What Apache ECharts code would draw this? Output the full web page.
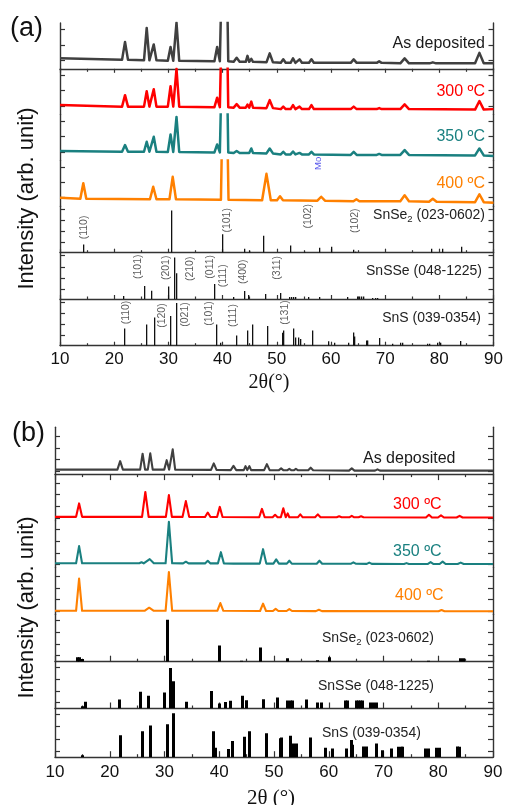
<!DOCTYPE html>
<html><head><meta charset="utf-8">
<script src="https://cdn.jsdelivr.net/npm/echarts@6/dist/echarts.min.js"></script>
<style>html,body{margin:0;padding:0;background:#fff}#c{width:508px;height:805px}</style>
</head><body><div id="c"></div>
<script>
// ================= DATA =================
const xTicks = [10, 20, 30, 40, 50, 60, 70, 80, 90];
// XRD patterns: ends = [level at 10°, level at 90°]; peaks = [2θ, foot level, apex level, half-width]
// ---- panel (a)
const aAsDepEnds = [10.5, 5.5];
const aAsDepPeaks = [[22.0,9,27,0.55],[26.0,8.5,41,0.5],[27.3,8.5,24.5,0.5],[30.4,8,22,0.5],[31.5,8,46.5,0.5],[39.0,7.5,22,0.5],[40.4,7.5,230,0.65],[42.6,7,11,0.55],[44.6,7,13,0.32],[45.3,7,10,0.32],[48.7,6.5,15.5,0.6],[51.2,6,9.5,0.45],[53.0,6,10.5,0.45],[54.2,6,9.5,0.45],[56.4,6,9.5,0.45],[64.2,6,9.5,0.55],[68.9,6,7.5,0.45],[73.6,5.5,10.5,0.8],[78.8,5.5,6.5,0.6],[87.4,5.5,16,0.8]];
const a300Ends = [9.6, 5.5];
const a300Peaks = [[22.0,8,19.5,0.55],[26.0,8,23.5,0.5],[27.3,8,25.5,0.5],[30.4,8,28.5,0.5],[31.5,8,46,0.5],[39.0,7.5,17,0.5],[40.4,7.5,230,0.65],[42.6,7,10.5,0.55],[44.6,7,10,0.32],[45.3,7,13,0.32],[48.7,6.5,14.5,0.6],[51.2,5.5,8,0.45],[53.0,5.5,9.6,0.45],[54.2,5.5,8,0.45],[56.4,5.5,9.6,0.45],[64.2,5.5,8,0.55],[68.9,5.5,6.5,0.45],[73.6,5.5,10.3,0.8],[87.4,5,13.6,0.8]];
const a350Ends = [9.4, 4.5];
const a350Peaks = [[22.0,8.7,15.4,0.55],[26.0,8.7,18.7,0.5],[27.3,8.7,23.7,0.5],[30.4,8.5,26,0.5],[31.5,8.5,43.7,0.5],[39.0,8,16,0.5],[40.4,8,230,0.65],[42.6,7.5,9.5,0.55],[44.6,7.5,9.5,0.32],[45.3,7.5,12,0.32],[48.7,7,12,0.6],[51.2,6,8.7,0.45],[53.0,6,8.9,0.45],[54.2,6,7.5,0.45],[56.4,6,8.7,0.45],[64.2,5.5,8.5,0.55],[68.9,5.5,6.5,0.45],[73.6,5.5,10.4,0.8],[87.4,5,12,0.8]];
const a400Ends = [8.5, 3.5];
const a400Peaks = [[14.3,7.5,23,0.55],[27.2,7,19.5,0.6],[30.8,7,29.5,0.6],[40.4,6.5,230,0.7],[48.1,6,32.5,0.8],[50.6,6,10,0.55],[58.2,5.5,9.5,0.7],[64.7,5,7,0.55],[73.6,5,11,0.8],[78.8,4.5,7.5,0.7],[87.4,4,12,0.8]];
// ---- panel (b)
const bAsDepEnds = [4.5, 3.5];
const bAsDepPeaks = [[21.9,4.5,13,0.5],[26.0,4.5,20.5,0.45],[27.4,4.5,20.8,0.45],[30.4,4.5,14,0.45],[31.5,4.5,24.8,0.45],[39.0,4.2,10.8,0.5],[42.6,4,8.2,0.5],[44.8,4,8,0.32],[45.5,4,8,0.32],[48.7,4,10,0.5],[51.3,3.8,5.8,0.45],[52.8,3.8,5.3,0.4],[54.0,3.8,5.3,0.4],[56.7,3.8,6.4,0.45],[64.2,3.5,5.8,0.5],[68.9,3.5,4.8,0.45]];
const b300Ends = [4, 3.3];
const b300Peaks = [[14.4,4,17.5,0.55],[26.5,4,29,0.6],[30.8,4,25.8,0.55],[33.9,4,19.8,0.6],[37.9,3.8,8.3,0.5],[40.1,3.8,14,0.5],[47.8,3.6,12,0.5],[50.2,3.6,6,0.45],[51.7,3.6,12.5,0.45],[52.5,3.6,7.5,0.3],[54.8,3.5,6.5,0.45],[58.0,3.5,6.5,0.5],[61.9,3.5,4.5,0.45],[64.2,3.5,5,0.45],[65.9,3.5,4.5,0.45],[78.3,3.3,6,0.55],[80.5,3.3,5.5,0.55],[83.9,3.3,5,0.55]];
const b350Ends = [4.3, 3.6];
const b350Peaks = [[14.4,4.3,21.6,0.55],[25.8,4.3,5.3,0.4],[27.3,4.3,8.5,0.75],[30.8,4.3,46,0.6],[33.9,4.2,5.9,0.5],[37.9,4.2,6.8,0.5],[40.3,4.2,15.5,0.55],[42.9,4,5.5,0.3],[43.5,4,5.5,0.3],[48.0,4,18.5,0.6],[50.4,4,8.3,0.5],[52.8,4,6.9,0.45],[58.3,3.8,6.9,0.5],[64.5,3.8,5.3,0.5],[67.4,3.7,5,0.45],[74.2,3.6,4.5,0.45],[78.6,3.6,5.5,0.55],[80.8,3.6,6,0.55],[84.1,3.6,5,0.55]];
const b400Ends = [3.5, 3];
const b400Peaks = [[14.4,3.5,36,0.55],[27.2,3.5,6.6,0.85],[30.8,3.5,42.6,0.6],[40.2,3.5,11.3,0.55],[48.0,3.3,10.7,0.55],[50.3,3.3,5.5,0.5],[52.8,3.3,5.3,0.5],[58.2,3.2,4.5,0.55],[80.6,3,4.3,0.55]];

// Reference sticks [2θ, intensity]
const aSnSe2 = [[14.4,8],[30.6,41.7],[40.1,18.3],[44.1,4],[45.0,2],[47.6,16.7],[52.6,7],[55.2,1],[58.0,5],[60.1,6],[64.1,3],[64.6,1],[78.5,4],[80.7,4],[84.1,6]];
const aSnSSe = [[21.7,3],[25.7,13],[27.0,8.3],[30.1,12.3],[31.1,41.3],[31.6,25.7],[38.6,15],[42.1,2],[44.1,8],[44.8,4],[48.0,5],[50.7,6],[52.4,2],[52.8,2],[53.1,2],[53.5,2],[55.9,2],[57.9,2],[63.1,2],[65.0,2.5],[65.3,2.5],[65.6,2.5],[66.0,2.5],[67.7,1],[68.2,1],[68.7,1]];
const aSnS = [[22.0,17],[26.0,21],[27.4,27.7],[30.4,29.3],[31.5,42],[39.0,21],[39.6,3],[42.6,10],[44.7,15],[45.5,21],[48.4,19.3],[51.0,12.7],[51.3,15],[53.1,17],[53.5,8],[54.1,8],[54.4,6.7],[56.7,15],[59.5,4.3],[60.7,3],[63.3,3],[64.1,13],[64.4,9],[66.5,5],[66.8,5],[69.0,7.7],[71.4,2],[72.8,3],[73.3,3],[77.9,2],[78.3,2],[79.7,3],[80.2,3],[83.9,4.7]];
const bSnSe2 = [[14.2,4.3],[14.5,4.3],[15.0,2.7],[30.6,41.7],[40.1,16],[44.0,1],[47.5,14],[52.5,3.5],[58.0,1.5],[60.1,4.5],[78.3,1],[84.1,3.5],[84.6,3.5]];
const bSnSSe = [[15.0,2.3],[15.6,6.7],[21.8,9],[25.7,16.7],[27.0,12.7],[30.0,16],[31.1,40.7],[31.6,27.3],[34.0,6.7],[38.6,17.7],[40.1,5],[41.2,6.5],[42.0,7.7],[44.2,12.7],[44.9,8.3],[48.0,9.3],[50.7,11],[52.5,8],[53.0,8],[53.4,8],[55.9,9],[58.0,6],[58.6,6],[63.0,8],[63.4,8],[65.0,8],[65.4,8],[65.8,8],[66.2,8],[67.7,6],[68.2,6],[68.8,6]];
const bSnS = [[15.0,2],[22.0,21.3],[26.0,25],[27.4,30.7],[30.5,31.7],[31.6,42.3],[39.0,25],[39.3,9],[41.7,8],[42.5,15.7],[44.6,19.7],[45.5,25],[48.6,23],[51.1,18.3],[51.4,19],[53.1,20.7],[53.5,13.3],[54.2,13.3],[56.6,19],[59.4,9],[60.7,8.3],[63.3,8.3],[64.1,16.7],[64.4,12],[66.4,10.3],[66.9,10.3],[68.7,13.3],[69.8,6.7],[71.4,8.3],[72.8,10],[73.2,10],[73.5,10],[77.7,8.3],[78.2,8.3],[79.7,9],[80.2,9],[83.5,10.3],[83.8,10]];

// Miller index labels [2θ, height, text]
const aSnSe2Hkl = [[14.5,25,'(110)'],[40.9,32,'(101)'],[55.8,36,'(102)'],[64.4,31.7,'(102)']];
const aSnSSeHkl = [[24.4,32,'(101)'],[29.5,31,'(201)'],[34.0,30,'(210)'],[37.7,32,'(011)'],[40.1,23,'(111)'],[43.8,27,'(400)'],[50.1,31,'(311)']];
const aSnSHkl = [[22.2,32.7,'(110)'],[28.8,29.7,'(120)'],[33.1,30.7,'(021)'],[37.5,31.7,'(101)'],[42.0,29.7,'(111)'],[51.5,32.7,'(131)']];
const aMo = [[57.7,43,'Mo']];

// ================= BUILD =================
const FONT = 'Liberation Sans, Arial, Helvetica, sans-serif';
const SERIF = 'Liberation Serif, Times New Roman, DejaVu Serif, serif';
const FRAME = '#333';
const C_DEP = '#404040', C_300 = '#ff0000', C_350 = '#1a8080', C_400 = '#ff8000';

function profile(ends, peaks) {
  const pts = [[10, ends[0]]];
  peaks.forEach(p => { pts.push([p[0] - p[3], p[1]], [p[0], p[2]], [p[0] + p[3], p[1]]); });
  pts.push([90, ends[1]]);
  return pts;
}

const grids = [], xAxes = [], yAxes = [], series = [];
const A_B = [23, 68.8, 114.6, 160.4, 206.2, 252.7, 299, 345.7];
const B_B = [427.3, 474.1, 520.8, 567.6, 614.3, 661.7, 708.5, 757.2];

function addPanel(bounds, left, width, isB) {
  const out = [];
  for (let k = 0; k < 7; k++) {
    const gi = grids.length;
    grids.push({ left: left, width: width, top: bounds[k], height: bounds[k + 1] - bounds[k], outerBoundsMode: 'none', containLabel: false });
    const isRef = k >= 4, isLast = k === 6;
    const xi = xAxes.length;
    const tickCol = { color: FRAME, width: 1.2 };
    xAxes.push({
      type: 'value', gridIndex: gi, min: 10, max: 90, interval: 10, position: 'bottom',
      axisLine: { show: isRef, lineStyle: { color: FRAME, width: 1.4 } },
      axisTick: { show: isRef, inside: true, length: isB ? 6 : 4, lineStyle: tickCol },
      minorTick: { show: isRef, splitNumber: 2, length: isB ? 3 : 2.5, lineStyle: tickCol },
      splitLine: { show: false }, minorSplitLine: { show: false },
      axisLabel: { show: isLast, margin: isB ? 7 : 5, fontSize: 17, color: '#111', fontFamily: FONT,
        formatter: v => (xTicks.indexOf(v) >= 0 ? String(v) : '') }
    });
    if (k === 0) {
      xAxes.push({
        type: 'value', gridIndex: gi, min: 10, max: 90, interval: 10, position: 'top',
        axisLine: { show: true, lineStyle: { color: FRAME, width: 1.4 } },
        axisTick: { show: true, inside: true, length: isB ? 6 : 4, lineStyle: tickCol },
        minorTick: { show: true, splitNumber: 2, length: 3, lineStyle: tickCol },
        splitLine: { show: false }, minorSplitLine: { show: false }, axisLabel: { show: false }
      });
    }
    const ymax = isB ? 47 : 46;
    const tv = isB ? (isRef ? [6, 17.7, 29.4, 41.1] : [3, 14.7, 26.4, 38.1])
                   : (isRef ? [10, 21, 32, 43] : [8.5, 24, 39.3]);
    const yi = yAxes.length;
    ['left', 'right'].forEach(pos => {
      yAxes.push({
        type: 'value', gridIndex: gi, min: 0, max: ymax, position: pos,
        axisLine: { show: true, onZero: false, lineStyle: { color: FRAME, width: 1.4 } },
        axisTick: { show: true, inside: true, length: 5, customValues: tv, lineStyle: tickCol },
        axisLabel: { show: false }, splitLine: { show: false }
      });
    });
    out.push({ xi: xi, yi: yi });
  }
  return out;
}

const PA = addPanel(A_B, 60, 433.5, false);
const PB = addPanel(B_B, 55, 438, true);

function lineS(ax, data, color, w) {
  series.push({ type: 'line', xAxisIndex: ax.xi, yAxisIndex: ax.yi, data: data, showSymbol: false, symbol: 'none',
    clip: true, silent: true, animation: false, lineStyle: { color: color, width: w, join: 'round' } });
}
function stickS(ax, data, w, color) {
  series.push({ type: 'custom', xAxisIndex: ax.xi, yAxisIndex: ax.yi, data: data, clip: true, silent: true, animation: false,
    encode: { x: 0, y: 1 },
    renderItem: function (params, api) {
      const p0 = api.coord([api.value(0), 0]);
      const p1 = api.coord([api.value(0), api.value(1)]);
      const x = Math.round(p0[0] - w / 2);
      return { type: 'rect', shape: { x: x, y: p1[1], width: w, height: p0[1] - p1[1] }, style: { fill: color } };
    } });
}
function labelS(ax, items, size, color) {
  series.push({ type: 'scatter', xAxisIndex: ax.xi, yAxisIndex: ax.yi, symbolSize: 1, silent: true, animation: false,
    itemStyle: { color: 'rgba(0,0,0,0)' },
    data: items.map(d => ({ name: d[2], value: [d[0], d[1]] })),
    label: { show: true, position: 'inside', rotate: 90, formatter: '{b}', fontSize: size, color: color, fontFamily: FONT } });
}

lineS(PA[0], profile(aAsDepEnds, aAsDepPeaks), C_DEP, 2.5);
lineS(PA[1], profile(a300Ends, a300Peaks), C_300, 2.5);
lineS(PA[2], profile(a350Ends, a350Peaks), C_350, 2.5);
lineS(PA[3], profile(a400Ends, a400Peaks), C_400, 2.5);
stickS(PA[4], aSnSe2, 1.3, '#111');
stickS(PA[5], aSnSSe, 1.3, '#111');
stickS(PA[6], aSnS, 1.3, '#111');
labelS(PA[4], aSnSe2Hkl, 10.5, '#333');
labelS(PA[5], aSnSSeHkl, 10.5, '#333');
labelS(PA[6], aSnSHkl, 10.5, '#333');
labelS(PA[3], aMo, 9.5, '#2a2ae6');

lineS(PB[0], profile(bAsDepEnds, bAsDepPeaks), C_DEP, 2.1);
lineS(PB[1], profile(b300Ends, b300Peaks), C_300, 2.1);
lineS(PB[2], profile(b350Ends, b350Peaks), C_350, 2.1);
lineS(PB[3], profile(b400Ends, b400Peaks), C_400, 2.1);
stickS(PB[4], bSnSe2, 3, '#000');
stickS(PB[5], bSnSSe, 3, '#000');
stickS(PB[6], bSnS, 3, '#000');

function txt(x, y, text, size, color, align, extra) {
  return Object.assign({ type: 'text', x: x, y: y, silent: true,
    style: { text: text, fill: color, fontSize: size, fontFamily: FONT, align: align, textAlign: align,
      verticalAlign: 'middle', textVerticalAlign: 'middle' } }, extra || {});
}
function refTxt(x, y, pre, sub, post, align) {
  return { type: 'text', x: x, y: y, silent: true,
    style: { text: '{n|' + pre + '}' + (sub ? '{s|' + sub + '}' : '') + '{n|' + post + '}', fill: '#222',
      fontFamily: FONT, fontSize: 14, align: align, textAlign: align, verticalAlign: 'middle', textVerticalAlign: 'middle',
      rich: { n: { fontSize: 14, lineHeight: 18, fontFamily: FONT, fill: '#222', color: '#222' },
              s: { fontSize: 9.5, lineHeight: 12, verticalAlign: 'bottom', fontFamily: FONT, fill: '#222', color: '#222' } } } };
}

const graphic = [
  txt(10, 29, '(a)', 27, '#111', 'left'),
  txt(12, 434, '(b)', 27, '#111', 'left'),
  txt(27, 198.5, 'Intensity (arb. unit)', 22, '#111', 'center', { rotation: Math.PI / 2 }),
  txt(27, 607.5, 'Intensity (arb. unit)', 22, '#111', 'center', { rotation: Math.PI / 2 }),
  { type: 'text', x: 269, y: 383, silent: true, style: { text: '2θ(°)', fill: '#111', fontSize: 20, fontFamily: SERIF, align: 'center', textAlign: 'center', verticalAlign: 'middle', textVerticalAlign: 'middle' } },
  { type: 'text', x: 271, y: 798, silent: true, style: { text: '2θ (°)', fill: '#111', fontSize: 21, fontFamily: SERIF, align: 'center', textAlign: 'center', verticalAlign: 'middle', textVerticalAlign: 'middle' } },
  txt(485, 44, 'As deposited', 16, '#1a1a1a', 'right'),
  txt(485, 92, '300 ºC', 16, C_300, 'right'),
  txt(485, 137, '350 ºC', 16, C_350, 'right'),
  txt(485, 184, '400 ºC', 16, C_400, 'right'),
  refTxt(485, 215, 'SnSe', '2', ' (023-0602)', 'right'),
  refTxt(482, 271, 'SnSSe (048-1225)', '', '', 'right'),
  refTxt(481, 318, 'SnS (039-0354)', '', '', 'right'),
  txt(363, 459, 'As deposited', 16, '#1a1a1a', 'left'),
  txt(393, 505, '300 ºC', 16, C_300, 'left'),
  txt(393, 552, '350 ºC', 16, C_350, 'left'),
  txt(395, 596, '400 ºC', 16, C_400, 'left'),
  refTxt(322, 638, 'SnSe', '2', ' (023-0602)', 'left'),
  refTxt(318, 686, 'SnSSe (048-1225)', '', '', 'left'),
  refTxt(322, 733, 'SnS (039-0354)', '', '', 'left')
];

const chart = echarts.init(document.getElementById('c'), null, { renderer: 'canvas' });
chart.setOption({
  backgroundColor: '#fff', animation: false,
  textStyle: { fontFamily: FONT },
  grid: grids, xAxis: xAxes, yAxis: yAxes, series: series, graphic: graphic
});
</script></body></html>
